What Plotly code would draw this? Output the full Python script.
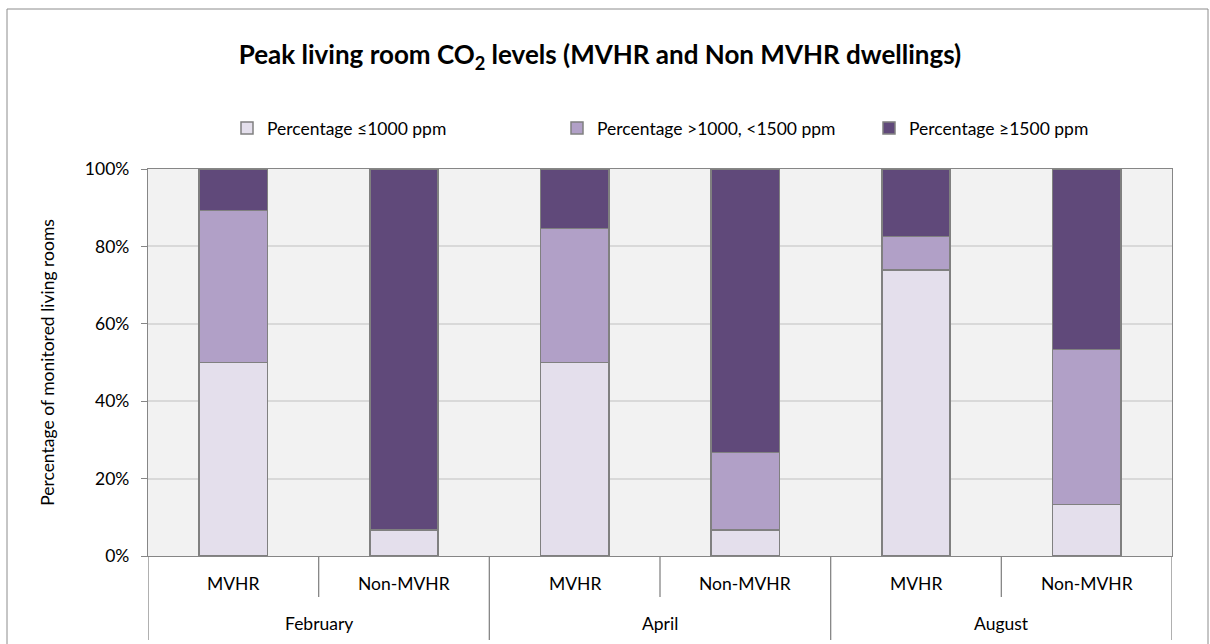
import plotly.graph_objects as go

months = ["February", "April", "August"]
types = ["MVHR", "Non-MVHR"]
series_names = ["Percentage ≤1000 ppm", "Percentage >1000, <1500 ppm", "Percentage ≥1500 ppm"]
low = [50.0, 6.7, 50.0, 6.7, 73.9, 13.3]
mid = [39.3, 0.0, 34.6, 20.0, 8.7, 40.0]
high = [10.7, 93.3, 15.4, 73.3, 17.4, 46.7]
colors = ["#E4DFEC", "#B1A0C7", "#60497A"]
yticks = [0, 20, 40, 60, 80, 100]

sub_labels = [t for m in months for t in types]
xpos = list(range(len(sub_labels)))

FONT = "Lato"
FS = 17.5
W, H = 1210, 644
PL, PR, PT, PB = 148, 1172, 169, 556  # plot area in pixels
PW, PH = PR - PL, PB - PT

legend_keys = ["legend", "legend2", "legend3"]
legend_x = [227, 557, 869]

fig = go.Figure()
for name, vals, col, lk in zip(series_names, [low, mid, high], colors, legend_keys):
    fig.add_trace(go.Bar(
        x=xpos, y=vals, name=name, width=0.4, legend=lk,
        marker=dict(color=col, line=dict(color="#808080", width=1.5)),
    ))

def py(p):  # pixel y -> paper y
    return (PB - p) / PH

def px(p):  # pixel x -> paper x
    return (p - PL) / PW

shapes = []
shapes.append(dict(type="rect", xref="paper", yref="paper", x0=px(7), x1=px(1208),
                   y0=py(660), y1=py(9), line=dict(color="#8C8C8C", width=1), layer="below"))
for i in range(len(sub_labels) + 1):
    xb = i - 0.5
    y0 = py(640) if i % len(types) == 0 else py(597)
    shapes.append(dict(type="line", xref="x", yref="paper", x0=xb, x1=xb, y0=0, y1=y0,
                       line=dict(color="#868686", width=1.3)))

annotations = []
for i, lab in enumerate(sub_labels):
    annotations.append(dict(x=i, y=py(583), xref="x", yref="paper", text=lab, showarrow=False,
                            font=dict(family=FONT, size=FS, color="#000"), yanchor="middle"))
for j, m in enumerate(months):
    annotations.append(dict(x=j * len(types) + (len(types) - 1) / 2, y=py(623), xref="x",
                            yref="paper", text=m, showarrow=False,
                            font=dict(family=FONT, size=FS, color="#000"), yanchor="middle"))

legends = {}
for lk, lx in zip(legend_keys, legend_x):
    legends[lk] = dict(orientation="h", xref="container", yref="container",
                       x=lx / W, xanchor="left", y=1 - 128 / H, yanchor="middle",
                       font=dict(family=FONT, size=FS, color="#000"),
                       itemwidth=30, bgcolor="rgba(0,0,0,0)")

fig.update_layout(
    width=W, height=H,
    barmode="stack",
    paper_bgcolor="white", plot_bgcolor="#F2F2F2",
    margin=dict(l=PL, r=W - PR, t=PT, b=H - PB, autoexpand=False),
    font=dict(family=FONT, size=FS, color="#000"),
    title=dict(text="<b>Peak living room CO<sub>2</sub> levels (MVHR and Non MVHR dwellings)</b>",
               x=600 / W, xanchor="center", y=1 - 55 / H, yanchor="middle",
               font=dict(family=FONT, size=26, color="#000")),
    xaxis=dict(range=[-0.5, len(sub_labels) - 0.5], showticklabels=False, showgrid=False,
               zeroline=False, showline=True, linecolor="#868686", linewidth=1.3, mirror=True,
               ticks=""),
    yaxis=dict(range=[0, 100], tickvals=yticks, ticktext=[f"{v}%" for v in yticks],
               showgrid=True, gridcolor="#D9D9D9", gridwidth=1.5, zeroline=False,
               showline=True, linecolor="#868686", linewidth=1.3, mirror=True,
               ticks="outside", ticklen=6, tickcolor="#868686", ticklabelstandoff=8,
               tickfont=dict(family=FONT, size=FS, color="#000"),
               title=dict(text="Percentage of monitored living rooms", standoff=25,
                          font=dict(family=FONT, size=FS, color="#000"))),
    shapes=shapes, annotations=annotations,
    showlegend=True,
    **legends,
)
fig.write_html("out.html", config={"displayModeBar": False},
               post_script="document.body.style.margin='0';")
